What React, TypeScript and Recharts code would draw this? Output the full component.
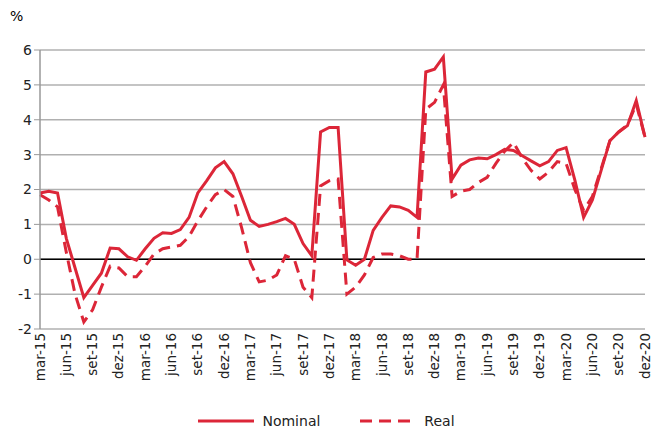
import { LineChart, Line, XAxis, YAxis, CartesianGrid, ReferenceLine, Legend } from 'recharts';

const pt = ['jan', 'fev', 'mar', 'abr', 'mai', 'jun', 'jul', 'ago', 'set', 'out', 'nov', 'dez'];
const months: string[] = [];
for (let y = 15; y <= 20; y++) for (let m = 0; m < 12; m++) if (!(y === 15 && m < 2)) months.push(`${pt[m]}-${y}`);

const nominal = [
  1.9, 1.95, 1.9, 0.6, -0.25, -1.1, -0.75, -0.4, 0.32, 0.3,
  0.07, -0.03, 0.3, 0.6, 0.76, 0.74, 0.85, 1.2, 1.9, 2.25, 2.62, 2.8,
  2.45, 1.8, 1.12, 0.94, 1.0, 1.08, 1.17, 1.0, 0.45, 0.1, 3.65, 3.78,
  3.78, -0.02, -0.17, 0, 0.83, 1.2, 1.53, 1.5, 1.4, 1.2, 5.37, 5.45,
  5.8, 2.3, 2.7, 2.85, 2.9, 2.88, 3.0, 3.15, 3.12, 2.97, 2.82, 2.68,
  2.8, 3.12, 3.2, 2.27, 1.2, 1.7, 2.55, 3.4, 3.65, 3.83, 4.55, 3.5,
];
const real = [
  1.85, 1.7, 1.5, 0.2, -1.0, -1.8, -1.45, -0.8, -0.2, -0.25,
  -0.5, -0.5, -0.2, 0.15, 0.3, 0.35, 0.4, 0.65, 1.1, 1.5, 1.85, 2.0,
  1.8, 0.9, -0.1, -0.65, -0.6, -0.45, 0.1, 0.0, -0.8, -1.1, 2.1, 2.25,
  2.3, -1.0, -0.8, -0.45, 0.05, 0.15, 0.15, 0.1, 0.0, 0.0, 4.3, 4.5,
  5.0, 1.8, 1.95, 2.0, 2.2, 2.35, 2.75, 3.1, 3.35, 2.9, 2.55, 2.3,
  2.5, 2.8, 2.75, 2.0, 1.4, 1.8, 2.6, 3.4, 3.65, 3.85, 4.45, 3.5,
];
const yTicks = [-2, -1, 0, 1, 2, 3, 4, 5, 6];

const data = months.map((m, i) => ({ m, nominal: nominal[i], real: real[i] }));
const red = '#dc2638';
const font = 'Verdana, "DejaVu Sans", sans-serif';

const legendContent = () => (
  <div style={{ display: 'flex', justifyContent: 'center', gap: 40, fontFamily: font, fontSize: 14, color: '#222', marginTop: -4 }}>
    <span style={{ display: 'flex', alignItems: 'center', gap: 8 }}>
      <svg width={56} height={6}><line x1={0} y1={3} x2={56} y2={3} stroke={red} strokeWidth={3} /></svg>Nominal
    </span>
    <span style={{ display: 'flex', alignItems: 'center', gap: 8 }}>
      <svg width={56} height={6}><line x1={0} y1={3} x2={56} y2={3} stroke={red} strokeWidth={3} strokeDasharray="12 7" /></svg>Real
    </span>
  </div>
);

export default function App() {
  return (
    <div style={{ position: 'absolute', left: 0, top: 0, width: 654, height: 431, background: '#fff' }}>
      <div style={{ position: 'absolute', left: 10, top: 8, fontFamily: font, fontSize: 14 }}>%</div>
      <LineChart width={654} height={431} data={data} margin={{ top: 50, right: 9, left: 8, bottom: 0 }}>
        <CartesianGrid vertical={false} stroke="#b0b0b0" strokeWidth={1.5} />
        <XAxis dataKey="m" interval={2} angle={-90} textAnchor="end" height={88} tickLine={false} axisLine={false}
          tick={{ fontFamily: font, fontSize: 13.5, fill: '#222', dy: -4 }} dx={-5} />
        <YAxis domain={[-2, 6]} ticks={yTicks} width={32} axisLine={{ stroke: '#999', strokeWidth: 1.5 }} tickLine={{ stroke: '#999' }}
          tick={{ fontFamily: font, fontSize: 14, fill: '#222' }} />
        <ReferenceLine y={0} stroke="#000" strokeWidth={1.5} />
        <Legend content={legendContent} verticalAlign="bottom" height={14} />
        <Line dataKey="real" stroke={red} strokeWidth={3} strokeDasharray="12 7" dot={false} isAnimationActive={false} />
        <Line dataKey="nominal" stroke={red} strokeWidth={3} dot={false} isAnimationActive={false} />
      </LineChart>
    </div>
  );
}
